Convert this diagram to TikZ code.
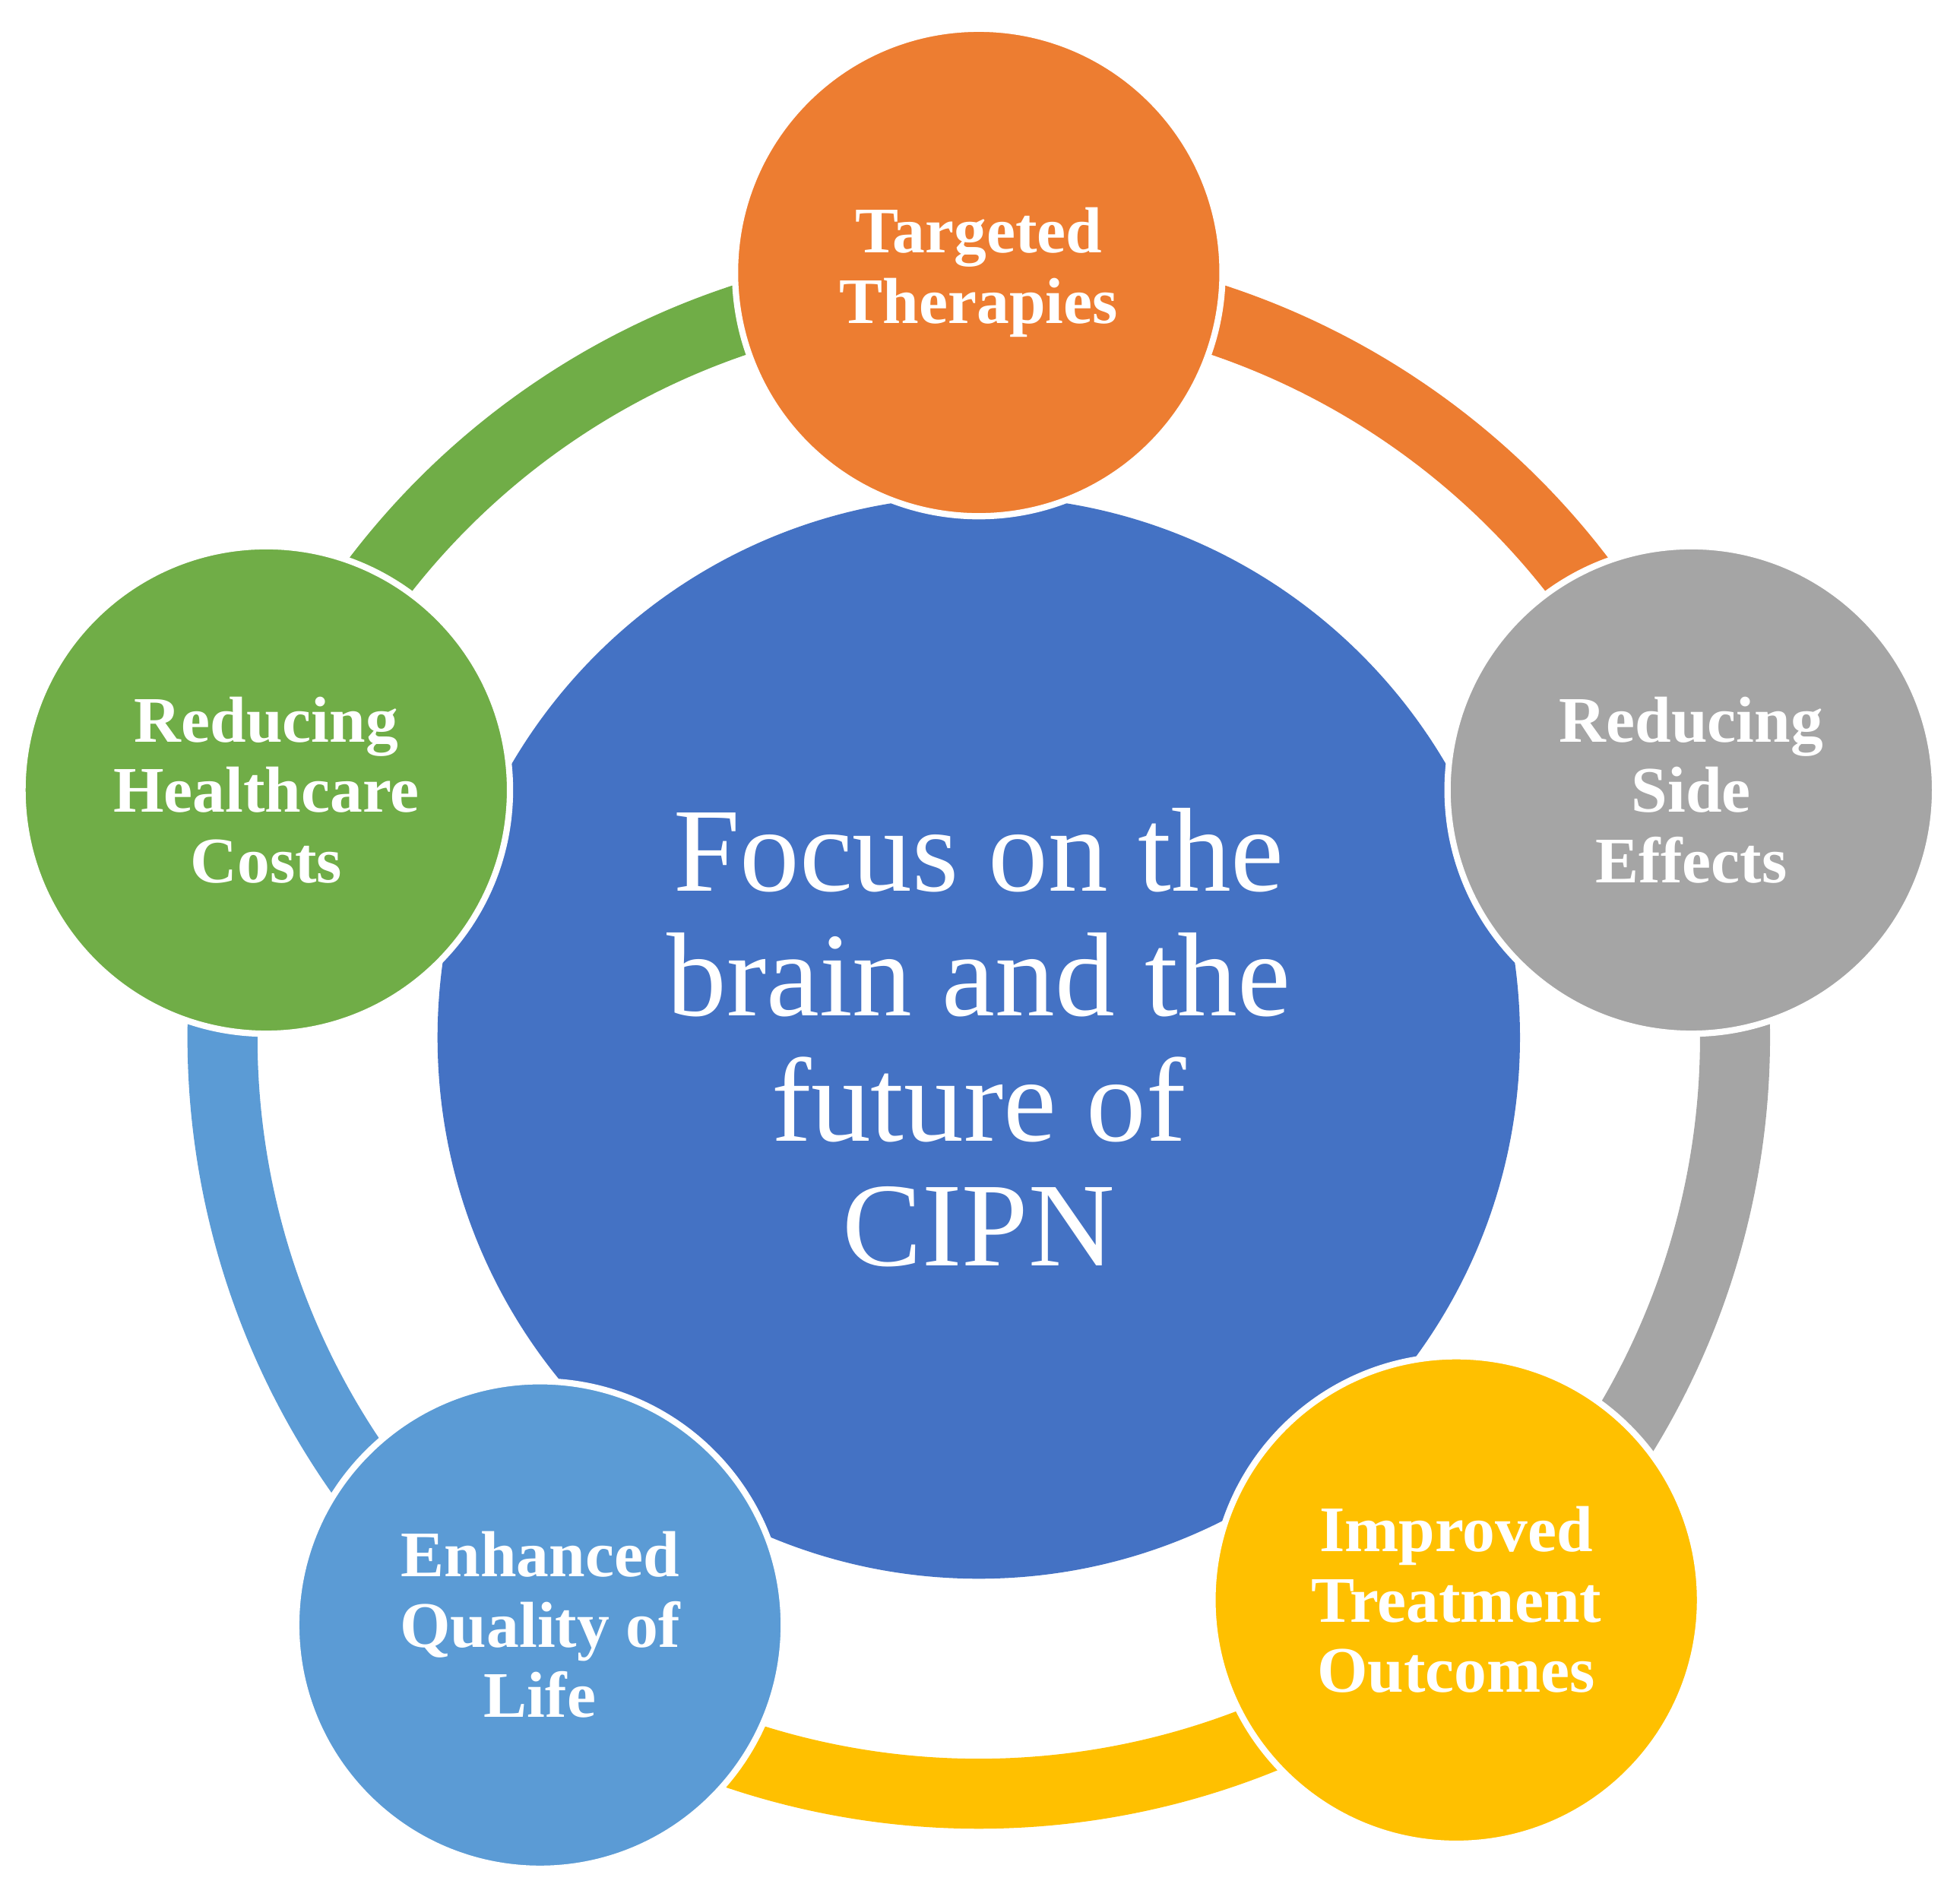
\documentclass[tikz,border=0pt]{standalone}
\usepackage{fontspec}
\setmainfont{Liberation Serif}
\definecolor{corange}{HTML}{ED7D31}
\definecolor{cgray}{HTML}{A5A5A5}
\definecolor{cyellow}{HTML}{FFC000}
\definecolor{clblue}{HTML}{5B9BD5}
\definecolor{cgreen}{HTML}{70AD47}
\definecolor{cblue}{HTML}{4472C4}
\begin{document}
\begin{tikzpicture}[x=0.05cm,y=0.05cm,
  sat/.style={circle,minimum size=19.5cm,inner sep=0pt,draw=white,line width=0.25cm,text=white,
    font=\bfseries\fontsize{74}{80}\selectfont,align=center},
  ring/.style={line width=2.8cm}]
\useasboundingbox (0,0) rectangle (1568,1522);
\coordinate (c) at (783,692);
\def\R{605}
\draw[ring,corange] ([shift={(90:\R)}]c) arc (90:19:\R);
\draw[ring,cgray] ([shift={(19:\R)}]c) arc (19:-50:\R);
\draw[ring,cyellow] ([shift={(-50:\R)}]c) arc (-50:-127:\R);
\draw[ring,clblue] ([shift={(-127:\R)}]c) arc (-127:-199:\R);
\draw[ring,cgreen] ([shift={(161:\R)}]c) arc (161:90:\R);
\node[circle,fill=cblue,minimum size=43.3cm,inner sep=0pt,text=white,align=center,
  font=\fontsize{136}{142}\selectfont] (main) at (783,692)
  {Focus on the\\brain and the\\future of\\CIPN};
\node[sat,fill=corange] (t) at (783,1304) {Targeted\\Therapies};
\node[sat,fill=cgray] (s) at (1353,890) {Reducing\\Side\\Effects};
\node[sat,fill=cyellow] (o) at (1165,242) {Improved\\Treatment\\Outcomes};
\node[sat,fill=clblue] (q) at (432,222) {Enhanced\\Quality of\\Life};
\node[sat,fill=cgreen] (h) at (213,890) {Reducing\\Healthcare\\Costs};
\end{tikzpicture}
\end{document}
